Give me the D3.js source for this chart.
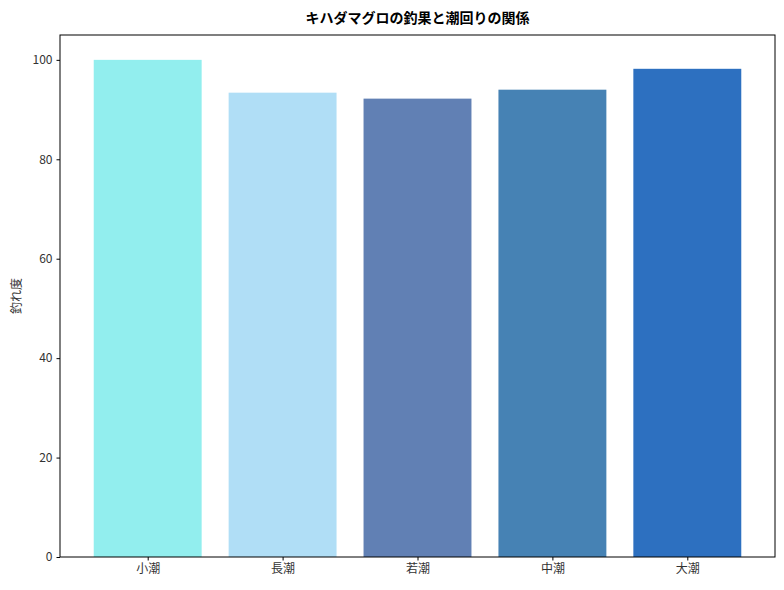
<!DOCTYPE html>
<html><head><meta charset="utf-8">
<script src="https://cdn.jsdelivr.net/npm/d3@7"></script>
<style>body{margin:0;background:#fff}text{font-family:"Noto Sans CJK JP","DejaVu Sans",sans-serif}</style>
</head><body>
<svg id="c" width="784" height="590"></svg>
<script>
const categories = ["小潮","長潮","若潮","中潮","大潮"];
const values = [100, 93.4, 92.2, 94, 98.2];
const colors = ["#92EEEE","#B0DEF6","#6180B4","#4682B4","#2D70C0"];
const yTicks = [0,20,40,60,80,100];

const svg = d3.select("#c");
const L=60,R=775,T=35,B=557;
const x = d3.scaleLinear().domain([-0.65,4.65]).range([L,R]);
const y = d3.scaleLinear().domain([0,105]).range([B,T]);
const bw = x(0.4)-x(-0.4);

svg.selectAll("rect.bar").data(values).enter().append("rect")
  .attr("x",(d,i)=>x(i)-bw/2).attr("width",bw)
  .attr("y",d=>y(d)).attr("height",d=>B-y(d))
  .attr("fill",(d,i)=>colors[i]);

const ya = svg.append("g").attr("transform",`translate(${L},0)`)
  .call(d3.axisLeft(y).tickValues(yTicks).tickSize(3.5).tickPadding(4));
const xa = svg.append("g").attr("transform",`translate(0,${B})`)
  .call(d3.axisBottom(x).tickValues(d3.range(5)).tickFormat(i=>categories[i]).tickSize(3.5).tickPadding(4));
[ya,xa].forEach(a=>{a.select(".domain").remove();a.selectAll("text").attr("font-size",12).attr("fill","#333");a.selectAll("line").attr("stroke","#000");});

svg.append("rect").attr("x",L).attr("y",T).attr("width",R-L).attr("height",B-T)
  .attr("fill","none").attr("stroke","#000").attr("stroke-width",1);

svg.append("text").attr("x",(L+R)/2).attr("y",23).attr("text-anchor","middle")
  .attr("font-size",14).attr("font-weight","bold").text("キハダマグロの釣果と潮回りの関係");
svg.append("text").attr("transform",`translate(21,${(T+B)/2}) rotate(-90)`)
  .attr("text-anchor","middle").attr("font-size",12).attr("fill","#333").text("釣れ度");
</script>
</body></html>
